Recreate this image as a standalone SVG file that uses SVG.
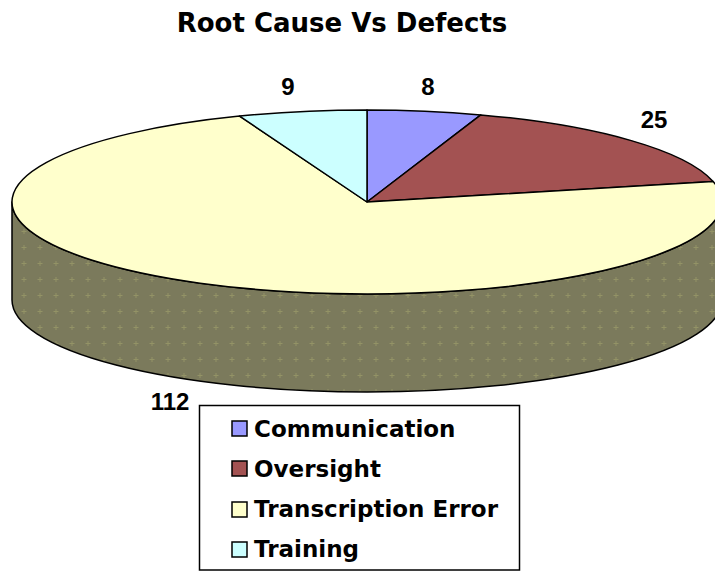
<svg xmlns="http://www.w3.org/2000/svg" width="715" height="571" viewBox="0 0 715 571">
  <defs>
    <pattern id="sidePat" x="0" y="0" width="16" height="16" patternUnits="userSpaceOnUse">
      <rect width="16" height="16" fill="#7b7a5c"/>
      <path d="M7.5 5h1v5h-1z M5.5 7h5v1h-5z" fill="#a3a36c" opacity="0.6"/>
    </pattern>
  </defs>
  <style>
    .title { font-family: "DejaVu Sans", Verdana, sans-serif; font-weight: bold; font-size: 26px; fill: #000; }
    .lbl { font-family: "Liberation Sans", Arial, sans-serif; font-weight: bold; font-size: 24px; fill: #000; }
    .leg { font-family: "DejaVu Sans", Verdana, sans-serif; font-weight: bold; font-size: 23px; fill: #000; }
    .edge { stroke: #000; stroke-width: 1.5; stroke-linejoin: round; }
    .sw { stroke: #000; stroke-width: 1.5; }
  </style>
  <rect width="715" height="571" fill="#ffffff"/>
  <text class="title" x="342" y="32" text-anchor="middle">Root Cause Vs Defects</text>

  <g id="pie-side">
    <path class="edge" fill="url(#sidePat)" d="M12,202 L12,300 A355,92 0 0 0 722,300 L722,202 A355,92 0 0 1 12,202 Z"/>
  </g>
  <g id="slice-communication">
    <path class="edge" fill="#9999ff" d="M367,202 L367,110 A355,92 0 0 1 480.8,114.9 Z"/>
  </g>
  <g id="slice-oversight">
    <path class="edge" fill="#a35252" d="M367,202 L480.8,114.9 A355,92 0 0 1 713.1,181.5 Z"/>
  </g>
  <g id="slice-transcription">
    <path class="edge" fill="#ffffcc" d="M367,202 L713.1,181.5 A355,92 0 1 1 239.6,116.1 Z"/>
  </g>
  <g id="slice-training">
    <path class="edge" fill="#ccffff" d="M367,202 L239.6,116.1 A355,92 0 0 1 367,110 Z"/>
  </g>

  <g id="labels">
    <text class="lbl" x="288" y="95" text-anchor="middle">9</text>
    <text class="lbl" x="428" y="95" text-anchor="middle">8</text>
    <text class="lbl" x="654" y="128" text-anchor="middle">25</text>
    <text class="lbl" x="170" y="410" text-anchor="middle">112</text>
  </g>

  <g id="legend">
    <rect x="199.5" y="405.5" width="320" height="164.5" fill="#ffffff" stroke="#000" stroke-width="1.5"/>
    <rect class="sw" x="232" y="421" width="15" height="15" fill="#9999ff"/>
    <text class="leg" x="254" y="437">Communication</text>
    <rect class="sw" x="232" y="461" width="15" height="15" fill="#a35252"/>
    <text class="leg" x="254" y="477">Oversight</text>
    <rect class="sw" x="232" y="502" width="15" height="15" fill="#ffffcc"/>
    <text class="leg" x="254" y="517">Transcription Error</text>
    <rect class="sw" x="232" y="542" width="15" height="15" fill="#ccffff"/>
    <text class="leg" x="254" y="557">Training</text>
  </g>
</svg>
